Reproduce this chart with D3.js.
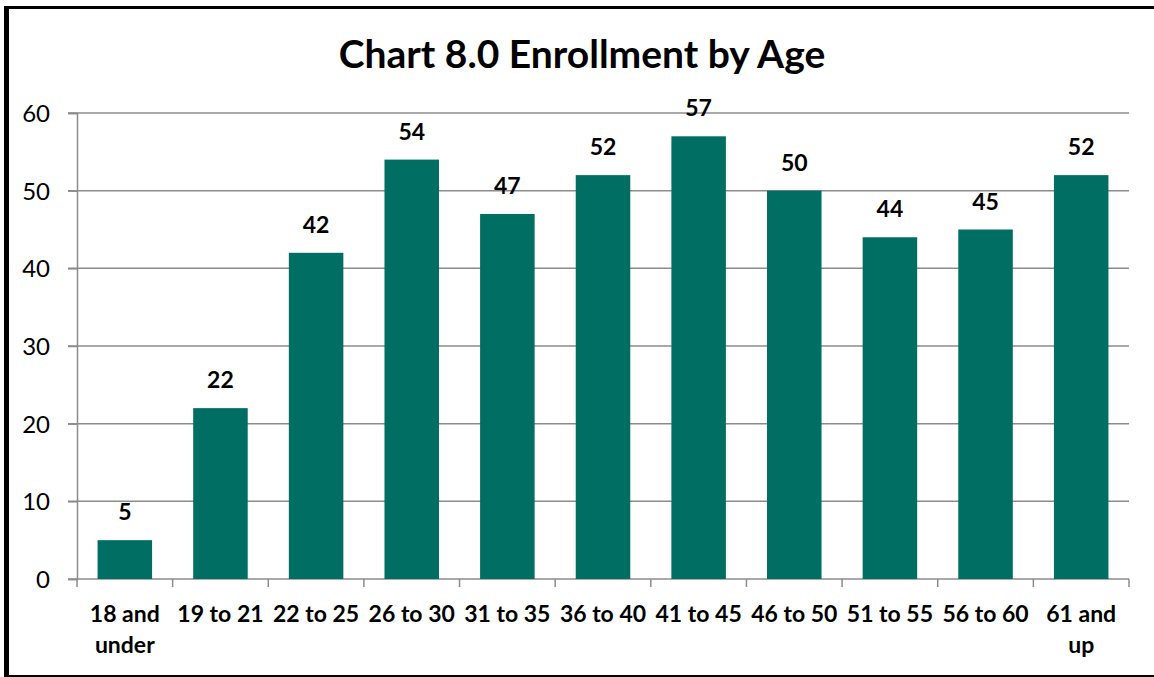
<!DOCTYPE html>
<html>
<head>
<meta charset="utf-8">
<script src="https://d3js.org/d3.v7.min.js"></script>
<style>
  body { margin: 0; background: #fff; }
  svg text { font-family: Lato, "Open Sans", sans-serif; fill: #000; }
</style>
</head>
<body>
<svg width="1154" height="677"></svg>
<script>
const categories = ['18 and under', '19 to 21', '22 to 25', '26 to 30', '31 to 35', '36 to 40',
    '41 to 45', '46 to 50', '51 to 55', '56 to 60', '61 and up'];
const enrollment = [5, 22, 42, 54, 47, 52, 57, 50, 44, 45, 52];
const yTicks = [0, 10, 20, 30, 40, 50, 60];

const svg = d3.select('svg'),
    width = +svg.attr('width'),
    height = +svg.attr('height');

const margin = {top: 113, right: 25, bottom: 98, left: 77};

// outer frame (top, left, bottom only; right edge is cropped off)
const frame = svg.append('g').attr('stroke', '#000');
frame.append('line').attr('x1', 4).attr('x2', width).attr('y1', 7.5).attr('y2', 7.5).attr('stroke-width', 3);
frame.append('line').attr('x1', 6.5).attr('x2', 6.5).attr('y1', 6).attr('y2', height).attr('stroke-width', 5);
frame.append('line').attr('x1', 4).attr('x2', width).attr('y1', 676).attr('y2', 676).attr('stroke-width', 2);

svg.append('text')
    .attr('x', 582)
    .attr('y', 68)
    .attr('text-anchor', 'middle')
    .style('font-size', '39px')
    .style('font-weight', 'bold')
    .text('Chart 8.0 Enrollment by Age');

const x = d3.scaleBand()
    .domain(categories)
    .range([margin.left, width - margin.right])
    .paddingInner(0.43)
    .paddingOuter(0.215);

const y = d3.scaleLinear()
    .domain([0, 60])
    .range([height - margin.bottom, margin.top]);

// gridlines
svg.append('g')
    .selectAll('line')
    .data(yTicks.filter(d => d > 0))
    .enter()
    .append('line')
    .attr('x1', margin.left - 9)
    .attr('x2', width - margin.right)
    .attr('y1', d => y(d))
    .attr('y2', d => y(d))
    .attr('stroke', '#8c8c8c')
    .attr('stroke-width', 1.5);

const yAxis = svg.append('g')
    .attr('transform', `translate(${margin.left},0)`)
    .call(d3.axisLeft(y).tickValues(yTicks).tickSize(9).tickPadding(18));
yAxis.select('.domain').attr('stroke', '#8c8c8c').attr('stroke-width', 1.5);
yAxis.selectAll('.tick line').attr('stroke', '#8c8c8c').attr('stroke-width', 1.5);
yAxis.selectAll('.tick text')
    .style('font-size', '24px')
    .attr('dy', '0.36em')
    .attr('fill', '#000');

// x axis with ticks at band boundaries
const xAxis = svg.append('g')
    .attr('transform', `translate(0,${y(0)})`);
xAxis.append('line')
    .attr('x1', margin.left - 9).attr('x2', width - margin.right)
    .attr('stroke', '#8c8c8c').attr('stroke-width', 1.5);
const step = x.step();
xAxis.selectAll('.xt')
    .data(d3.range(categories.length + 1))
    .enter()
    .append('line')
    .attr('x1', i => margin.left + i * step)
    .attr('x2', i => margin.left + i * step)
    .attr('y1', 0).attr('y2', 8)
    .attr('stroke', '#8c8c8c').attr('stroke-width', 1.5);

xAxis.selectAll('.xl')
    .data(categories)
    .enter()
    .append('text')
    .attr('text-anchor', 'middle')
    .attr('x', d => x(d) + x.bandwidth() / 2)
    .attr('y', 43)
    .style('font-size', '23px')
    .style('font-weight', 'bold')
    .each(function (d) {
        const m = d.match(/^(\d+ and) (.+)$/);
        const lines = m ? [m[1], m[2]] : [d];
        d3.select(this).selectAll('tspan')
            .data(lines)
            .enter()
            .append('tspan')
            .attr('x', x(d) + x.bandwidth() / 2)
            .attr('dy', (l, i) => i === 0 ? 0 : 31)
            .text(l => l);
    });

// bars
svg.append('g')
    .selectAll('rect')
    .data(enrollment)
    .enter()
    .append('rect')
    .attr('x', (d, i) => x(categories[i]))
    .attr('y', d => y(d))
    .attr('width', x.bandwidth())
    .attr('height', d => y(0) - y(d))
    .attr('fill', '#006e63');

// value labels
svg.append('g')
    .selectAll('text')
    .data(enrollment)
    .enter()
    .append('text')
    .attr('text-anchor', 'middle')
    .attr('x', (d, i) => x(categories[i]) + x.bandwidth() / 2)
    .attr('y', d => y(d) - 20)
    .style('font-size', '23px')
    .style('font-weight', 'bold')
    .text(d => d);
</script>
</body>
</html>
